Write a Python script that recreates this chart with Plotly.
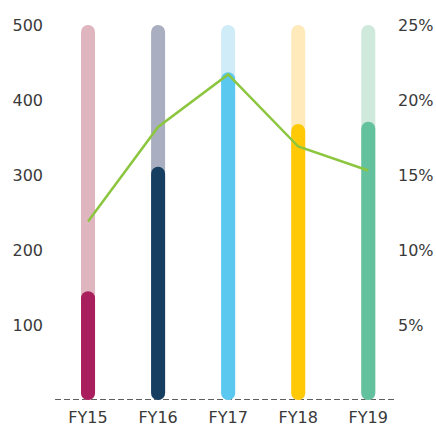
import plotly.graph_objects as go

# Fiscal years and values
years = ["FY15", "FY16", "FY17", "FY18", "FY19"]
values = [145, 311, 437, 368, 371]
capacity = [500, 500, 500, 500, 500]
rate_pct = [11.9, 18.2, 21.7, 16.9, 15.3]

# Palette per year: strong fill and pale track
strong = ["#a91e5c", "#163e61", "#5bc8f0", "#ffc906", "#64c19d"]
pale = ["#dfb5c0", "#a9aec0", "#d0ecf9", "#ffeabc", "#d0e9dd"]

left_ticks = [100, 200, 300, 400, 500]
right_ticks = [5, 10, 15, 20, 25]
right_text = [f"{t}%" for t in right_ticks]

BAR_W = 0.2
RADIUS = 7
FONT = dict(family="DejaVu Sans", size=16, color="#3a3a3a")

fig = go.Figure()


def rounded_column(vals, colors):
    # an explicit base makes plotly round both ends of each column
    fig.add_trace(go.Bar(
        x=years, y=vals, base=[0] * len(vals),
        width=BAR_W, marker=dict(color=colors, cornerradius=RADIUS, line_width=0),
        hoverinfo="skip", showlegend=False, cliponaxis=False,
    ))


rounded_column(capacity, pale)
rounded_column(values, strong)

fig.add_trace(go.Scatter(
    x=years, y=rate_pct, yaxis="y2", mode="lines",
    line=dict(color="#8cc63f", width=2.5), showlegend=False, cliponaxis=False,
))

fig.add_shape(
    type="line", xref="paper", yref="y", x0=0.006, x1=1.02, y0=0, y1=0,
    line=dict(color="#2a2a2a", width=1.5, dash="6px,3px"), layer="below",
)

fig.update_layout(
    width=436, height=427,
    margin=dict(l=53, r=46, t=25, b=27, autoexpand=False),
    paper_bgcolor="white", plot_bgcolor="white",
    barmode="overlay",
    font=FONT,
    xaxis=dict(
        range=[-0.5, 4.31], showgrid=False, zeroline=False, showline=False,
        ticks="", ticklabelstandoff=6, tickfont=FONT, automargin=False,
    ),
    yaxis=dict(
        range=[0, 500], tickvals=left_ticks, showgrid=False, zeroline=False,
        showline=False, ticks="", ticklabelstandoff=9, tickfont=FONT,
        automargin=False,
    ),
    yaxis2=dict(
        range=[0, 25], tickvals=right_ticks, ticktext=right_text,
        overlaying="y", side="right", showgrid=False, zeroline=False,
        showline=False, ticks="", ticklabelstandoff=7, tickfont=FONT,
        automargin=False,
    ),
)

fig.write_html("out.html")
